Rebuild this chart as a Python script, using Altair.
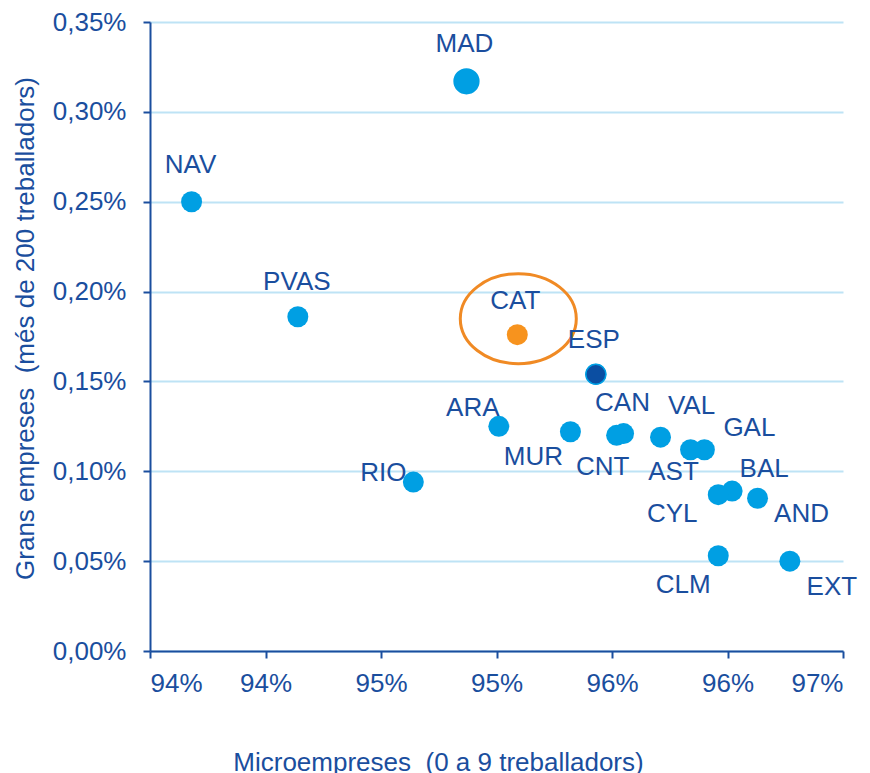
import altair as alt
import pandas as pd

# ---- data ----
regions = ["MAD", "NAV", "PVAS", "CAT", "ESP", "ARA", "MUR", "CAN", "CNT",
           "VAL", "GAL", "AST", "BAL", "CYL", "AND", "RIO", "CLM", "EXT"]
micro_pct = [95.12, 93.93, 94.39, 95.34, 95.68, 95.26, 95.57, 95.80, 95.77,
             95.96, 96.15, 96.09, 96.27, 96.21, 96.38, 94.89, 96.21, 96.52]
large_pct = [0.317, 0.250, 0.186, 0.176, 0.154, 0.125, 0.122, 0.121, 0.120,
             0.119, 0.112, 0.112, 0.089, 0.087, 0.085, 0.094, 0.053, 0.050]
x_ticks_pct = [93.75, 94.25, 94.75, 95.25, 95.75, 96.25, 96.75]
y_ticks_pct = [0.00, 0.05, 0.10, 0.15, 0.20, 0.25, 0.30, 0.35]

x_title = "Microempreses\u00a0 (0 a 9 treballadors)"
y_title = "Grans empreses\u00a0 (més de 200 treballadors)"

# ---- layout / style (pixels) ----
LABEL_OFFSETS = {
    "MAD": (-2, -37), "NAV": (-1, -37), "PVAS": (-1, -35), "CAT": (-2, -34),
    "ESP": (-2, -34), "ARA": (-26, -18), "MUR": (-37, 25), "CAN": (-1, -31),
    "CNT": (-14, 32), "VAL": (31, -31), "GAL": (45, -22), "AST": (-17, 22),
    "BAL": (32, -22), "CYL": (-46, 19), "AND": (44, 16), "RIO": (-30, -9),
    "CLM": (-35, 29), "EXT": (42, 26),
}
BLUE = "#009FE3"
DARK = "#1A4E9E"
ESP_FILL = "#0B4EA2"
ORANGE = "#F7931E"
ELLIPSE = "#F08A24"
GRID = "#BEE3F5"
FONT = "Liberation Sans"

df = pd.DataFrame({
    "region": regions,
    "micro": [v / 100 for v in micro_pct],
    "large": [v / 100 for v in large_pct],
})

x_ticks = [v / 100 for v in x_ticks_pct]
y_ticks = [v / 100 for v in y_ticks_pct]

x_enc = alt.X(
    "micro:Q",
    scale=alt.Scale(domain=[x_ticks[0], x_ticks[-1]], nice=False, zero=False),
    axis=alt.Axis(
        values=x_ticks, format=".0%", grid=False,
        title=x_title, titleX=288, titleY=119, titleAlign="center",
        titleBaseline="alphabetic", titleAnchor=None,
        labelPadding=12,
    ),
)
y_enc = alt.Y(
    "large:Q",
    scale=alt.Scale(domain=[y_ticks[0], y_ticks[-1]], nice=False),
    axis=alt.Axis(
        values=y_ticks,
        labelExpr="replace(format(datum.value, '.2%'), '.', ',')",
        grid=True, gridColor=GRID, gridWidth=2,
        title=y_title, titleX=-117, titleY=306, titleAngle=-90,
        titleAlign="center", titleBaseline="alphabetic",
        labelPadding=17,
    ),
)

base = alt.Chart(df)

points = base.mark_circle(opacity=1).encode(
    x=x_enc,
    y=y_enc,
    size=alt.condition(alt.datum.region == "MAD", alt.value(690), alt.value(440)),
    color=alt.condition(
        alt.datum.region == "CAT", alt.value(ORANGE),
        alt.value(BLUE)),
)

esp = base.transform_filter(alt.datum.region == "ESP").mark_circle(
    opacity=1, fill=ESP_FILL, stroke=BLUE, strokeWidth=1.5, size=400
).encode(x="micro:Q", y="large:Q")

ellipse_path = "M -1 0 A 1 0.776 0 1 1 1 0 A 1 0.776 0 1 1 -1 0 Z"
ellipse = base.transform_filter(alt.datum.region == "CAT").mark_point(
    shape=ellipse_path, size=13456, filled=False, stroke=ELLIPSE,
    strokeWidth=3, opacity=1, xOffset=1, yOffset=-16,
).encode(x="micro:Q", y="large:Q")

label_layers = []
for r in regions:
    dx, dy = LABEL_OFFSETS[r]
    label_layers.append(
        base.transform_filter(alt.datum.region == r).mark_text(
            font=FONT, fontSize=26, color=DARK, align="center",
            baseline="middle", dx=dx, dy=dy,
        ).encode(x="micro:Q", y="large:Q", text="region:N")
    )

chart = alt.layer(points, esp, ellipse, *label_layers).properties(
    width=693,
    height=629,
    autosize=alt.AutoSizeParams(type="none"),
    padding={"left": 142, "top": 14, "right": 19, "bottom": 125},
    background="white",
).configure_view(stroke=None).configure_axis(
    domainColor=DARK, domainWidth=2,
    tickColor=DARK, tickWidth=2, tickSize=7,
    labelColor=DARK, labelFont=FONT, labelFontSize=26,
    titleColor=DARK, titleFont=FONT, titleFontSize=26, titleFontWeight="normal",
)

chart.save("out.html", embed_options={"renderer": "svg", "actions": False})
